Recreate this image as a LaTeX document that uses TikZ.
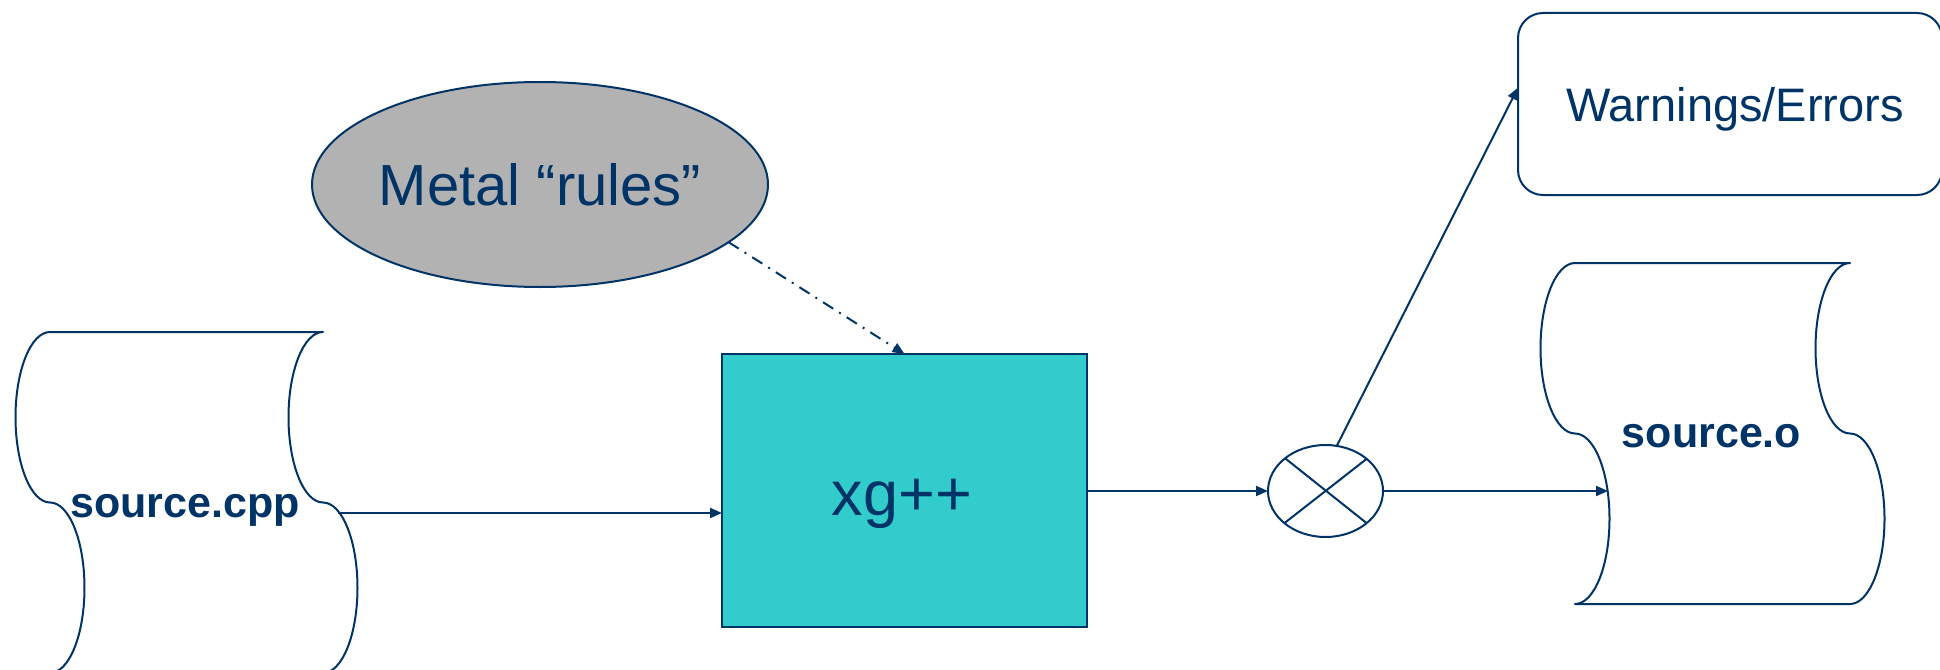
\documentclass[tikz,border=0pt]{standalone}
\usepackage{fontspec}
\setmainfont{Liberation Sans}
\usetikzlibrary{shapes.geometric,arrows.meta,calc}
\definecolor{navy}{HTML}{003366}
\definecolor{tealfill}{HTML}{33CCCC}
\definecolor{grayfill}{HTML}{B2B2B2}
\begin{document}
\begin{tikzpicture}[x=1pt,y=1pt,
  outline/.style={draw=navy,line width=2pt},
  arr/.style={draw=navy,line width=2pt,-{Triangle[length=12pt,width=10pt]}},
  lbl/.style={text=navy,inner sep=0pt,anchor=base},
  tape/.style={draw=navy,line width=2pt,line join=round},
  wave/.style={x radius=34.5,y radius=85.25},
]
\useasboundingbox (0,0) rectangle (1940,-669);

% tape shapes
\draw[tape] (50,-332) arc[start angle=90,end angle=270,wave] arc[start angle=90,end angle=-90,wave]
  -- ++(273,0) arc[start angle=-90,end angle=90,wave] arc[start angle=-90,end angle=-270,wave] -- cycle;
\draw[tape] (1575,-263) arc[start angle=90,end angle=270,wave] arc[start angle=90,end angle=-90,wave]
  -- ++(275,0) arc[start angle=-90,end angle=90,wave] arc[start angle=-90,end angle=-270,wave] -- cycle;
\node[lbl,font=\fontsize{43}{50}\selectfont\bfseries] (cpp) at (185,-517) {source.cpp};
\node[lbl,font=\fontsize{43}{50}\selectfont\bfseries] (obj) at (1711.5,-447) {source.o};
\coordinate (cppR) at (338,-513);
\coordinate (objL) at (1608,-491);

% ellipse
\node[ellipse,draw=navy,fill=grayfill,line width=2pt,minimum width=456pt,minimum height=205pt,inner sep=0pt,outer sep=0pt] (m) at (540,-184.5) {};
\node[lbl,font=\fontsize{58}{66}\selectfont] (mt) at (540,-205) {Metal “rules”};

% compiler box
\node[draw=navy,fill=tealfill,line width=2.5pt,minimum width=365pt,minimum height=273pt,inner sep=0pt,outer sep=0pt] (x) at (904.5,-490.5) {};
\node[lbl,font=\fontsize{63}{70}\selectfont] (xt) at (902,-515) {xg++};

% switch circle
\node[ellipse,draw=navy,line width=2pt,minimum width=115pt,minimum height=92pt,inner sep=0pt,outer sep=0pt] (c) at (1325.5,-491) {};
\draw[outline] (c.38.66) -- (c.218.66) (c.141.34) -- (c.-38.66);

% warnings box
\node[draw=navy,line width=2pt,rounded corners=25pt,minimum width=424pt,minimum height=182pt,inner sep=0pt,outer sep=0pt] (w) at (1730,-104) {};
\node[lbl,font=\fontsize{47}{54}\selectfont] (wt) at (1735,-121) {Warnings/Errors};

% connectors
\draw[arr] (cppR) -- (cppR -| x.west);
\draw[arr] (c.west -| x.east) -- (c.west);
\draw[arr] (c.east) -- (objL);
\draw[arr] (c.76) -- ($(w.north west)!0.41!(w.south west)$);
\draw[arr,dash pattern=on 12pt off 7pt on 2pt off 7pt] (m.-17.5) -- (x.north);
\end{tikzpicture}
\end{document}
